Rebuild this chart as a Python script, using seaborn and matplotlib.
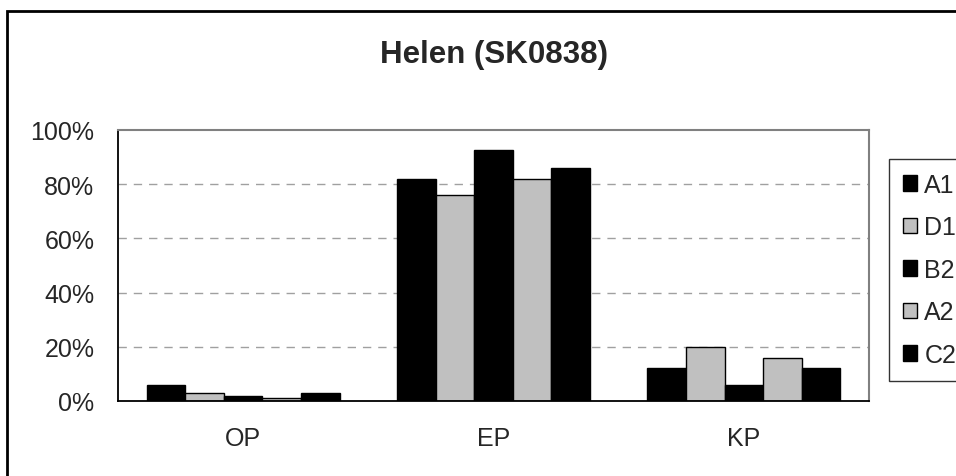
import pandas as pd
import numpy as np
import seaborn as sns
import matplotlib.pyplot as plt
from matplotlib.patches import Rectangle
from matplotlib.ticker import FixedLocator

# values (percent)
categories = ['OP', 'EP', 'KP']
series = ['A1', 'D1', 'B2', 'A2', 'C2']
A1 = [6, 82, 12]
D1 = [3, 76, 20]
B2 = [2, 92.5, 6]
A2 = [1, 82, 16]
C2 = [3, 86, 12]
colors = ['black', '#c0c0c0', 'black', '#c0c0c0', 'black']

rows = []
for name, vals in zip(series, [A1, D1, B2, A2, C2]):
    for cat, v in zip(categories, vals):
        rows.append({'cat': cat, 'series': name, 'value': v})
df = pd.DataFrame(rows)

sns.set_style('white')
plt.rcParams['font.family'] = ['Liberation Sans', 'DejaVu Sans']

fig = plt.figure(figsize=(9.56, 4.77), dpi=100)
ax = fig.add_axes([118/956, 75/477, 751/956, 271/477])

sns.barplot(data=df, x='cat', y='value', hue='series', palette=colors,
            width=0.77, edgecolor='black', linewidth=1, saturation=1,
            ax=ax, legend=True)

ax.set_ylim(0, 100)
ax.set_xlim(-0.5, 2.5)
ax.set_yticks([0, 20, 40, 60, 80, 100])
ax.set_yticklabels(['0%', '20%', '40%', '60%', '80%', '100%'], fontsize=18)
for y in [20, 40, 60, 80]:
    ax.axhline(y, color='#a0a0a0', lw=1, ls=(0, (6, 5)), zorder=0)
ax.set_xlabel('')
ax.set_ylabel('')
ax.tick_params(axis='x', which='major', length=0, labelsize=18, pad=18)
ax.xaxis.set_minor_locator(FixedLocator([-0.5, 0.5, 1.5, 2.5]))
ax.tick_params(axis='x', which='minor', length=7, width=1, color='black', direction='out')
ax.tick_params(axis='y', length=7, width=1, color='black', direction='out', pad=10)

for s in ['left', 'bottom']:
    ax.spines[s].set_color('black')
    ax.spines[s].set_linewidth(1.3)
for s in ['top', 'right']:
    ax.spines[s].set_color('#808080')
    ax.spines[s].set_linewidth(1.5)

ax.get_legend().remove()
handles = [Rectangle((0, 0), 1, 1, facecolor=c, edgecolor='black', lw=1) for c in colors]
leg = fig.legend(handles, series, loc='upper left', bbox_to_anchor=(889/956, 1 - 160/477),
                 fontsize=18, frameon=True, fancybox=False, handlelength=0.56, handleheight=0.56,
                 handletextpad=0.3, labelspacing=0.74, borderpad=0.55, borderaxespad=0)
leg.get_frame().set_edgecolor('black')
leg.get_frame().set_linewidth(1)

fig.text(494/956, 1 - 55/477, 'Helen (SK0838)', ha='center', va='center',
         fontsize=22.5, fontweight='bold')

fig.patches.append(Rectangle((7/956, -0.1), 1.2, 1 - 12/477 + 0.1, transform=fig.transFigure,
                             fill=False, edgecolor='black', lw=2, clip_on=False))

fig.savefig('out.png', dpi=100)
